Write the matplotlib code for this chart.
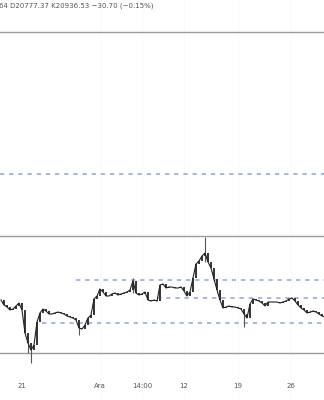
import matplotlib
matplotlib.use("Agg")
import matplotlib.pyplot as plt

# closing prices, one bar every ~3 px of the reference
closes = [21100, 21050, 21030, 21000, 21010, 21040, 21070, 21000, 20770, 20670,
          20600, 20650, 20880, 20970, 21010, 20990, 20960, 20960, 20970, 20980,
          20970, 20960, 20940, 20930, 20920, 20900, 20820, 20810, 20850, 20920,
          20950, 21110, 21140, 21210, 21180, 21140, 21140, 21160, 21170, 21150,
          21160, 21170, 21180, 21200, 21290, 21170, 21150, 21160, 21180, 21100,
          21090, 21100, 21090, 21250, 21260, 21220, 21230, 21230, 21220, 21220,
          21230, 21190, 21140, 21180, 21320, 21460, 21490, 21540, 21570, 21480,
          21420, 21310, 21200, 21100, 21020, 21030, 21040, 21030, 21030, 21020,
          21010, 20960, 20920, 21060, 21110, 21100, 21090, 21070, 21040, 21080,
          21080, 21080, 21080, 21070, 21080, 21090, 21110, 21120, 21090, 21050,
          21020, 21000, 20970, 20980, 20990, 20980, 20960, 20940, 20930]

# long wicks: bar, low, high
wick_bars = [9, 10, 26, 44, 68, 81]
wick_lows = [20570, 20470, 20750, 21170, 21480, 20830]
wick_highs = [20700, 20650, 20850, 21320, 21730, 20960]

solid_levels = [23780, 21740, 20570]
dash_levels = [22360, 21300, 21125, 20870]
dash_start = [-0.3, 25, 52, 13.7]

tick_pos = [7, 33, 47, 61, 79, 96.7]
tick_labels = ["21", "Ara", "14:00", "12", "19", "26"]

header = "64 D20777.37 K20936.53 \u221230.70 (\u22120.15%)"

fig = plt.figure(figsize=(3.24, 4.0), dpi=100)
ax = fig.add_axes([0, 0, 1, 1])
ax.set_xlim(-0.33, 107.67)
ax.set_ylim(20100, 24100)
ax.axis("off")

for p in [33, 47, 61, 79, 96.7]:
    ax.axvline(p, color="#f8f8f8", lw=0.6, zorder=0)

for lv in solid_levels:
    ax.axhline(lv, color="#9a9a9a", lw=1.0, zorder=1)
for lv, x0 in zip(dash_levels, dash_start):
    ax.hlines(lv, x0, 107.67, color="#8ea3d8", lw=1.1,
              linestyles=(0, (2.8, 3.2)), zorder=1)

xs = list(range(len(closes)))
ax.vlines(wick_bars, wick_lows, wick_highs, color="#555555", lw=0.8, zorder=2)
# candle bodies: previous close -> close
ax.vlines(xs[1:], closes[:-1], closes[1:], color="#333333", lw=1.4, zorder=3)
ax.plot(xs, closes, color="#222222", lw=0.8, zorder=3)

for p, t in zip(tick_pos, tick_labels):
    ax.text(p, 0.035, t, transform=ax.get_xaxis_transform(), ha="center",
            va="center", fontsize=5, color="#555555")

fig.text(-0.004, 0.985, header, ha="left", va="center", fontsize=5,
         color="#555555")

fig.savefig("out.png", dpi=100, facecolor="white")
